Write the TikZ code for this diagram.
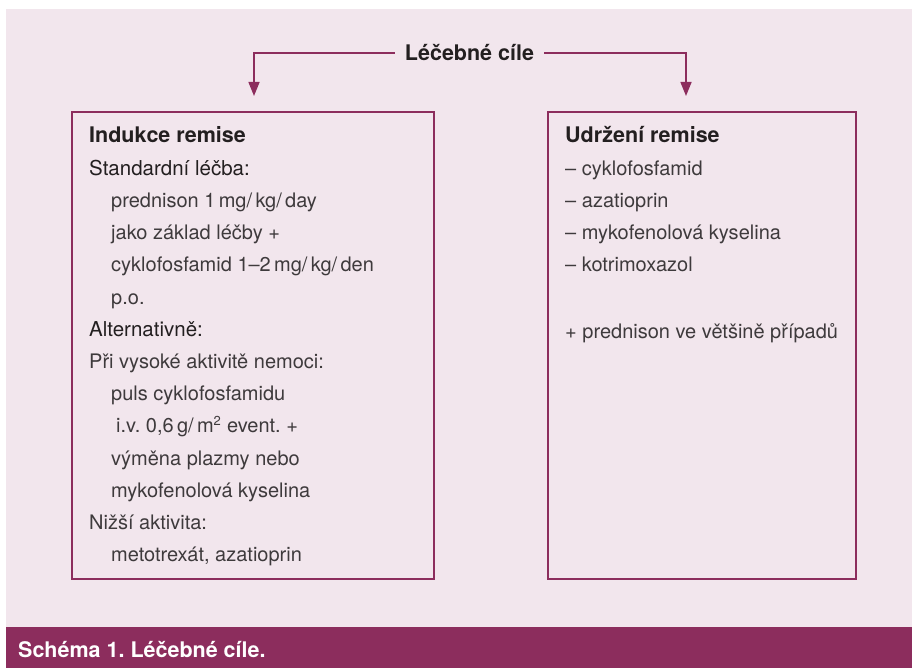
\documentclass[tikz,border=0pt]{standalone}
\usepackage{fontspec}
\setmainfont{TeX Gyre Heros}
\usetikzlibrary{arrows.meta,positioning}
\frenchspacing

\definecolor{plum}{RGB}{140,45,93}
\definecolor{blush}{RGB}{242,230,237}
\definecolor{ink}{RGB}{35,31,32}
\definecolor{inkgray}{RGB}{62,58,60}

\tikzset{
  frame/.style={draw=plum, line width=1.6pt, minimum height=467pt, inner sep=0pt},
  head/.style={anchor=base west, inner sep=0pt, text=ink, font=\fontsize{21.5}{26}\selectfont\bfseries},
  sub/.style={anchor=base west, inner sep=0pt, text=ink, font=\fontsize{20.5}{26}\selectfont},
  item/.style={anchor=base west, inner sep=0pt, text=inkgray, font=\fontsize{20}{26}\selectfont},
  feed/.style={draw=plum, line width=1.5pt, -{Triangle[length=14pt,width=11pt]}}
}

\begin{document}
\begin{tikzpicture}[x=1pt,y=-1pt]
	\useasboundingbox (0,0) rectangle (912,668);
	% background and caption band
	\fill[blush] (6,9) rectangle (912,627);
	\fill[plum] (6,627) rectangle (912,668);

	% title with the two feeds
	\node[inner xsep=10pt, inner ysep=0pt, text=ink, font=\fontsize{21.5}{26}\selectfont\bfseries] (title) at (469.5,53) {Léčebné cíle};
	\coordinate (lt) at (254,96);
	\coordinate (rt) at (686,96);
	\draw[feed] (title.west) -| (lt);
	\draw[feed] (title.east) -| (rt);

	% the two boxes
	\node[frame, minimum width=362pt] (induce) at (253,345.5) {};
	\node[frame, minimum width=308pt] (keep) at (702,345.5) {};

	% left box text
	\node[head] (i0) at (89,143) {Indukce remise};
	\node[sub] (i1) at (89,175.2) {Standardní léčba:};
	\node[item] (i2) at (111,207.4) {prednison 1\,mg/\,kg/\,day};
	\node[item] (i3) at (111,239.6) {jako základ léčby +};
	\node[item] (i4) at (111,271.8) {cyklofosfamid 1--2\,mg/\,kg/\,den};
	\node[item] (i5) at (111,304) {p.o.};
	\node[sub] (i6) at (89,336.2) {Alternativně:};
	\node[item] (i7) at (89,368.4) {Při vysoké aktivitě nemoci:};
	\node[item] (i8) at (111,400.6) {puls cyklofosfamidu};
	\node[item] (i9) at (116,432.8) {i.v. 0,6\,g/\,m\textsuperscript{\fontsize{13}{13}\selectfont 2} event. +};
	\node[item] (i10) at (111,465) {výměna plazmy nebo};
	\node[item] (i11) at (111,497.2) {mykofenolová kyselina};
	\node[item] (i12) at (89,529.4) {Nižší aktivita:};
	\node[item] (i13) at (111,561.6) {metotrexát, azatioprin};

	% right box text
	\node[head] (k0) at (565,143) {Udržení remise};
	\node[item] (k1) at (565,175.2) {-- cyklofosfamid};
	\node[item] (k2) at (565,207.4) {-- azatioprin};
	\node[item] (k3) at (565,239.6) {-- mykofenolová kyselina};
	\node[item] (k4) at (565,271.8) {-- kotrimoxazol};
	\node[item] (k5) at (565,338) {+ prednison ve většině případů};

	% caption
	\node[anchor=base west, inner sep=0pt, text=white, font=\fontsize{21.5}{26}\selectfont\bfseries] (cap) at (18,657) {Schéma 1. Léčebné cíle.};
\end{tikzpicture}
\end{document}
